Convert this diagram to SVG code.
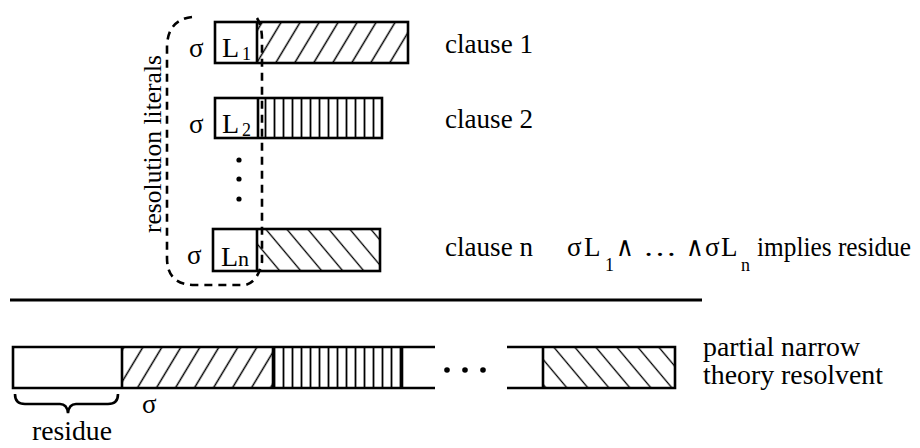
<svg xmlns="http://www.w3.org/2000/svg" width="920" height="448" viewBox="0 0 920 448" font-family="Liberation Serif, Times New Roman, serif">
<style>
  text { font-size: 27px; fill: #000; }
  .box { fill: none; stroke: #000; stroke-width: 2.6; }
  .ln { stroke: #000; stroke-width: 2.6; fill: none; }
  .dash { fill: none; stroke: #000; stroke-width: 2.6; stroke-dasharray: 8 6; }
  .big { font-size: 28px; }
  .sub { font-size: 18px; }
</style>
<defs>
  <pattern id="hf" width="19" height="10" patternUnits="userSpaceOnUse" patternTransform="skewX(-31)">
    <line x1="9.5" y1="-1" x2="9.5" y2="11" stroke="#000" stroke-width="1.7"/>
  </pattern>
  <pattern id="vs" width="9" height="10" patternUnits="userSpaceOnUse">
    <line x1="4.5" y1="-1" x2="4.5" y2="11" stroke="#000" stroke-width="1.8"/>
  </pattern>
  <pattern id="hb" width="21" height="10" patternUnits="userSpaceOnUse" patternTransform="skewX(40)">
    <line x1="10.5" y1="-1" x2="10.5" y2="11" stroke="#000" stroke-width="1.7"/>
  </pattern>
</defs>

<g id="clause1">
  <rect x="257" y="22" width="151" height="41" fill="url(#hf)"/>
  <rect class="box" x="215" y="22" width="193" height="41"/>
  <line class="ln" x1="257" y1="22" x2="257" y2="63"/>
  <text x="189" y="57">σ</text>
  <text class="big" x="222" y="57">L</text>
  <text class="sub" x="242" y="60">1</text>
  <text x="445" y="53" textLength="88" lengthAdjust="spacingAndGlyphs">clause 1</text>
</g>

<g id="clause2">
  <rect x="258" y="98" width="124" height="40" fill="url(#vs)"/>
  <rect class="box" x="215" y="98" width="167" height="40"/>
  <line class="ln" x1="258" y1="98" x2="258" y2="138"/>
  <text x="189" y="133">σ</text>
  <text class="big" x="222" y="133">L</text>
  <text class="sub" x="242" y="136">2</text>
  <text x="445" y="128" textLength="88" lengthAdjust="spacingAndGlyphs">clause 2</text>
</g>

<g id="dots">
  <circle cx="239" cy="160" r="2.6"/>
  <circle cx="239" cy="179" r="2.6"/>
  <circle cx="239" cy="199" r="2.6"/>
</g>

<g id="clausen">
  <rect x="257" y="229" width="123" height="42" fill="url(#hb)"/>
  <rect class="box" x="213" y="229" width="167" height="42"/>
  <line class="ln" x1="257" y1="229" x2="257" y2="271"/>
  <text x="187" y="264">σ</text>
  <text class="big" x="221" y="266">L</text>
  <text x="238" y="266" style="font-size:22px">n</text>
  <text x="445" y="256" textLength="88" lengthAdjust="spacingAndGlyphs">clause n</text>
</g>

<g id="formula">
  <text x="567" y="256">σ</text>
  <text x="584" y="256">L</text>
  <text class="sub" x="605" y="271">1</text>
  <text x="616" y="256" textLength="18" lengthAdjust="spacingAndGlyphs">∧</text>
  <text x="643" y="256" textLength="34" lengthAdjust="spacingAndGlyphs">…</text>
  <text x="686" y="256" textLength="18" lengthAdjust="spacingAndGlyphs">∧</text>
  <text x="705" y="256">σ</text>
  <text x="721" y="256">L</text>
  <text class="sub" x="741" y="271">n</text>
  <text x="757" y="256" textLength="154" lengthAdjust="spacingAndGlyphs">implies residue</text>
</g>

<g id="literals">
  <path class="dash" d="M 192 17 Q 167 20 167 48 L 167 258 Q 167 285 195 285 L 245 285 Q 258 282 262 262 L 262 40 Q 262 26 257 18"/>
  <text style="font-size:26px" transform="translate(161,233) rotate(-90)" textLength="178" lengthAdjust="spacingAndGlyphs">resolution literals</text>
</g>

<g id="divider">
  <line x1="10" y1="300" x2="702" y2="300" stroke="#000" stroke-width="3.2"/>
</g>

<g id="resolvent">
  <rect x="122" y="347" width="151" height="41" fill="url(#hf)"/>
  <rect x="273" y="347" width="129" height="41" fill="url(#vs)"/>
  <rect x="543" y="347" width="132" height="41" fill="url(#hb)"/>
  <path class="ln" d="M 435 347 L 13 347 L 13 388 L 435 388"/>
  <line class="ln" x1="122" y1="347" x2="122" y2="388"/>
  <line class="ln" x1="273" y1="347" x2="273" y2="388"/>
  <line class="ln" x1="402" y1="347" x2="402" y2="388"/>
  <circle cx="447" cy="370" r="2.8"/>
  <circle cx="465" cy="370" r="2.8"/>
  <circle cx="483" cy="370" r="2.8"/>
  <path class="ln" d="M 507 347 L 675 347 L 675 388 L 507 388"/>
  <line class="ln" x1="543" y1="347" x2="543" y2="388"/>
  <text x="703" y="356" textLength="157" lengthAdjust="spacingAndGlyphs">partial narrow</text>
  <text x="703" y="384" textLength="180" lengthAdjust="spacingAndGlyphs">theory resolvent</text>
</g>

<g id="residue">
  <path class="ln" stroke-width="2" d="M 15 394 Q 15 404 25 404 L 60 404 Q 67 404 68 413 Q 69 404 76 404 L 108 404 Q 118 404 118 394"/>
  <text x="32" y="440" textLength="80" lengthAdjust="spacingAndGlyphs">residue</text>
  <text x="142" y="413">σ</text>
</g>
</svg>
